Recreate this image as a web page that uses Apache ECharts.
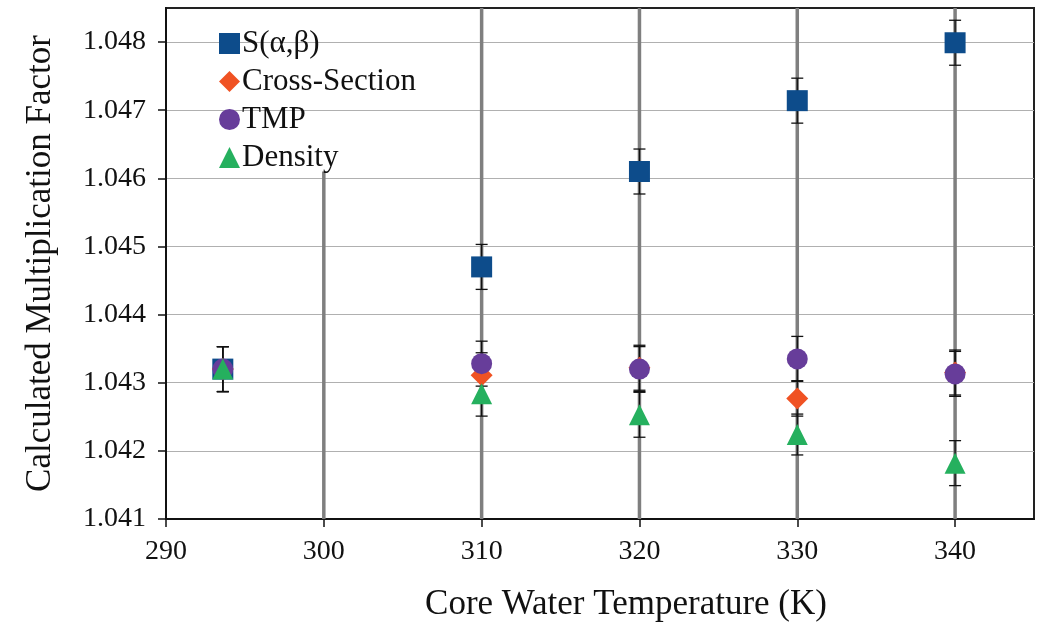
<!DOCTYPE html>
<html>
<head>
<meta charset="utf-8">
<script src="https://cdn.jsdelivr.net/npm/echarts@6/dist/echarts.min.js"></script>
<style>
  html, body { margin: 0; padding: 0; background: #fff; }
  #chart { width: 1040px; height: 627px; }
</style>
</head>
<body>
<div id="chart"></div>
<script>
// temperatures (K)
var temps = [293.6, 310, 320, 330, 340];

// calculated k-eff per case
var sabValues = [1.0432, 1.0447, 1.0461, 1.04714, 1.04799];
var crossValues = [1.0432, 1.04311, 1.04322, 1.04277, 1.04315];
var tmpValues = [1.0432, 1.04328, 1.0432, 1.04335, 1.04313];
var densityValues = [1.0432, 1.04284, 1.04253, 1.04224, 1.04182];

// one-sigma error bars
var sabErr = [0.00033, 0.00033, 0.00033, 0.00033, 0.00033];
var crossErr = [0.00033, 0.00033, 0.00033, 0.00026, 0.00033];
var tmpErr = [0.00033, 0.00033, 0.00033, 0.00033, 0.00033];
var densityErr = [0.00033, 0.00033, 0.00033, 0.0003, 0.00033];

// dark vertical guide lines seen in the original
var guideX = [300, 310, 320, 330, 340];
var guideTop = [1.0461, 1.0485, 1.0485, 1.0485, 1.0485];

var xTicks = [290, 300, 310, 320, 330, 340];
var yTicks = [1.041, 1.042, 1.043, 1.044, 1.045, 1.046, 1.047, 1.048];

var FONT = '"Liberation Serif", "Times New Roman", serif';

function pairs(xs, ys) {
    return xs.map(function(x, i) { return [x, ys[i]]; });
}
function errData(xs, ys, es) {
    return xs.map(function(x, i) { return [x, ys[i], es[i]]; });
}

function renderErr(params, api) {
    var x = api.value(0), y = api.value(1), e = api.value(2);
    var hi = api.coord([x, y + e]);
    var lo = api.coord([x, y - e]);
    var half = 6;
    var st = { stroke: '#111', lineWidth: 1.3 };
    return {
        type: 'group',
        children: [
            { type: 'line', shape: { x1: hi[0], y1: hi[1], x2: lo[0], y2: lo[1] }, style: st },
            { type: 'line', shape: { x1: hi[0] - half, y1: hi[1], x2: hi[0] + half, y2: hi[1] }, style: st },
            { type: 'line', shape: { x1: lo[0] - half, y1: lo[1], x2: lo[0] + half, y2: lo[1] }, style: st }
        ]
    };
}

function renderGuide(params, api) {
    var top = api.coord([api.value(0), api.value(1)]);
    var bot = api.coord([api.value(0), 1.041]);
    return {
        type: 'line',
        shape: { x1: top[0], y1: top[1], x2: bot[0], y2: bot[1] },
        style: { stroke: '#7f7f7f', lineWidth: 3.5 }
    };
}

function errSeries(name, xs, ys, es) {
    return {
        name: name + ' err',
        type: 'custom',
        renderItem: renderErr,
        data: errData(xs, ys, es),
        z: 3,
        silent: true
    };
}

var myChart = echarts.init(document.getElementById('chart'));

var option = {
    animation: false,
    grid: {
        left: 166, right: 6, top: 8, bottom: 106,
        show: true, borderColor: '#222', borderWidth: 2
    },
    legend: {
        orient: 'vertical',
        left: 214, top: 23,
        itemWidth: 21, itemHeight: 21,
        itemGap: 7,
        data: [
            { name: 'S(α,β)', icon: 'rect' },
            { name: 'Cross-Section', icon: 'diamond' },
            { name: 'TMP', icon: 'circle' },
            { name: 'Density', icon: 'triangle' }
        ],
        textStyle: { fontFamily: FONT, fontSize: 31, color: '#111', padding: [0, 0, 0, -3], lineHeight: 31 }
    },
    xAxis: {
        type: 'value',
        min: 290, max: 345,
        name: 'Core Water Temperature (K)',
        nameLocation: 'middle',
        nameGap: 68,
        nameTextStyle: { fontFamily: FONT, fontSize: 35, color: '#111', padding: [0, 0, 0, 52] },
        axisLine: { lineStyle: { color: '#111', width: 2 } },
        axisTick: { customValues: xTicks, length: 8, lineStyle: { color: '#111', width: 1.5 } },
        axisLabel: { customValues: xTicks, margin: 19, fontFamily: FONT, fontSize: 28, color: '#111' },
        splitLine: { show: false }
    },
    yAxis: {
        type: 'value',
        min: 1.041, max: 1.0485,
        name: 'Calculated Multiplication Factor',
        nameLocation: 'middle',
        nameGap: 108,
        nameTextStyle: { fontFamily: FONT, fontSize: 35, color: '#111' },
        axisLine: { lineStyle: { color: '#111', width: 2 } },
        axisTick: { customValues: yTicks, length: 8, lineStyle: { color: '#111', width: 1.5 } },
        axisLabel: {
            customValues: yTicks, margin: 20, fontFamily: FONT, fontSize: 28, color: '#111',
            formatter: function(v) { return v.toFixed(3); }
        },
        splitLine: { lineStyle: { color: '#b0b0b0', width: 1.2 } }
    },
    series: [
        {
            name: 'guides',
            type: 'custom',
            renderItem: renderGuide,
            data: pairs(guideX, guideTop),
            z: 1,
            silent: true
        },
        errSeries('S(α,β)', temps, sabValues, sabErr),
        errSeries('Cross-Section', temps, crossValues, crossErr),
        errSeries('TMP', temps, tmpValues, tmpErr),
        errSeries('Density', temps, densityValues, densityErr),
        {
            name: 'S(α,β)', type: 'scatter', symbol: 'rect', symbolSize: 21,
            itemStyle: { color: '#0d4c8b', opacity: 1 },
            data: pairs(temps, sabValues), z: 5
        },
        {
            name: 'Cross-Section', type: 'scatter', symbol: 'diamond', symbolSize: 22,
            itemStyle: { color: '#f05223', opacity: 1 },
            data: pairs(temps, crossValues), z: 5
        },
        {
            name: 'TMP', type: 'scatter', symbol: 'circle', symbolSize: 21,
            itemStyle: { color: '#673d9a', opacity: 1 },
            data: pairs(temps, tmpValues), z: 5
        },
        {
            name: 'Density', type: 'scatter', symbol: 'triangle', symbolSize: 21,
            itemStyle: { color: '#25b05e', opacity: 1 },
            data: pairs(temps, densityValues), z: 5
        }
    ]
};

myChart.setOption(option);
</script>
</body>
</html>
